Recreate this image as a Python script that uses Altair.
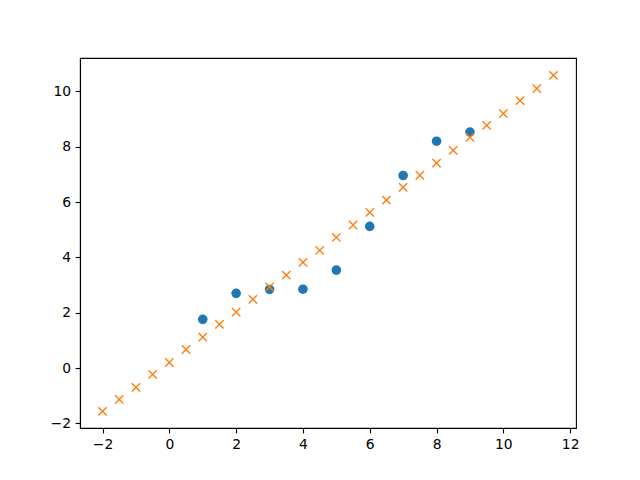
import altair as alt
import pandas as pd

blue_x = [1, 2, 3, 4, 5, 6, 7, 8, 9]
blue_y = [1.76, 2.70, 2.84, 2.85, 3.54, 5.12, 6.96, 8.20, 8.53]

orange_x = [-2, -1.5, -1, -0.5, 0, 0.5, 1, 1.5, 2, 2.5, 3, 3.5, 4, 4.5, 5, 5.5,
            6, 6.5, 7, 7.5, 8, 8.5, 9, 9.5, 10, 10.5, 11, 11.5]
orange_y = [-1.57, -1.13, -0.70, -0.23, 0.20, 0.67, 1.12, 1.58, 2.02, 2.48, 2.93, 3.36,
            3.82, 4.25, 4.72, 5.17, 5.63, 6.07, 6.53, 6.97, 7.41, 7.87, 8.34, 8.77,
            9.20, 9.67, 10.10, 10.58]

x_ticks = [-2, 0, 2, 4, 6, 8, 10, 12]
y_ticks = [-2, 0, 2, 4, 6, 8, 10]

blue = pd.DataFrame({"x": blue_x, "y": blue_y})
orange = pd.DataFrame({"x": orange_x, "y": orange_y})

axis_common = dict(
    grid=False, domainColor="black", domainWidth=1.1, tickColor="black", tickWidth=1.1,
    tickSize=4.9, labelColor="black", labelFont="DejaVu Sans", labelFontSize=13.9,
    labelPadding=4.5, title=None,
)

xs = alt.Scale(domain=[-2.675, 12.175], nice=False, zero=False)
ys = alt.Scale(domain=[-2.168, 11.208], nice=False, zero=False)
xax = alt.Axis(values=x_ticks, **axis_common)
yax = alt.Axis(values=y_ticks, **axis_common)

pts = alt.Chart(blue).mark_point(
    filled=True, shape="circle", size=92, color="#1f77b4", opacity=1
).encode(
    x=alt.X("x:Q", scale=xs, axis=xax),
    y=alt.Y("y:Q", scale=ys, axis=yax),
)

crosses = alt.Chart(orange).mark_point(
    filled=False, shape="M-1,-1L1,1M-1,1L1,-1", size=69, color="#ff7f0e",
    strokeWidth=1.4, opacity=1
).encode(
    x=alt.X("x:Q", scale=xs, axis=xax),
    y=alt.Y("y:Q", scale=ys, axis=yax),
)

chart = alt.layer(pts, crosses).properties(
    width=496, height=370,
    autosize=alt.AutoSizeParams(type="none"),
    padding={"left": 72, "top": 50, "right": 56, "bottom": 45},
    background="white",
).configure_view(stroke="black", strokeWidth=1.1)

chart.save("out.html", embed_options={"renderer": "svg", "actions": False})
